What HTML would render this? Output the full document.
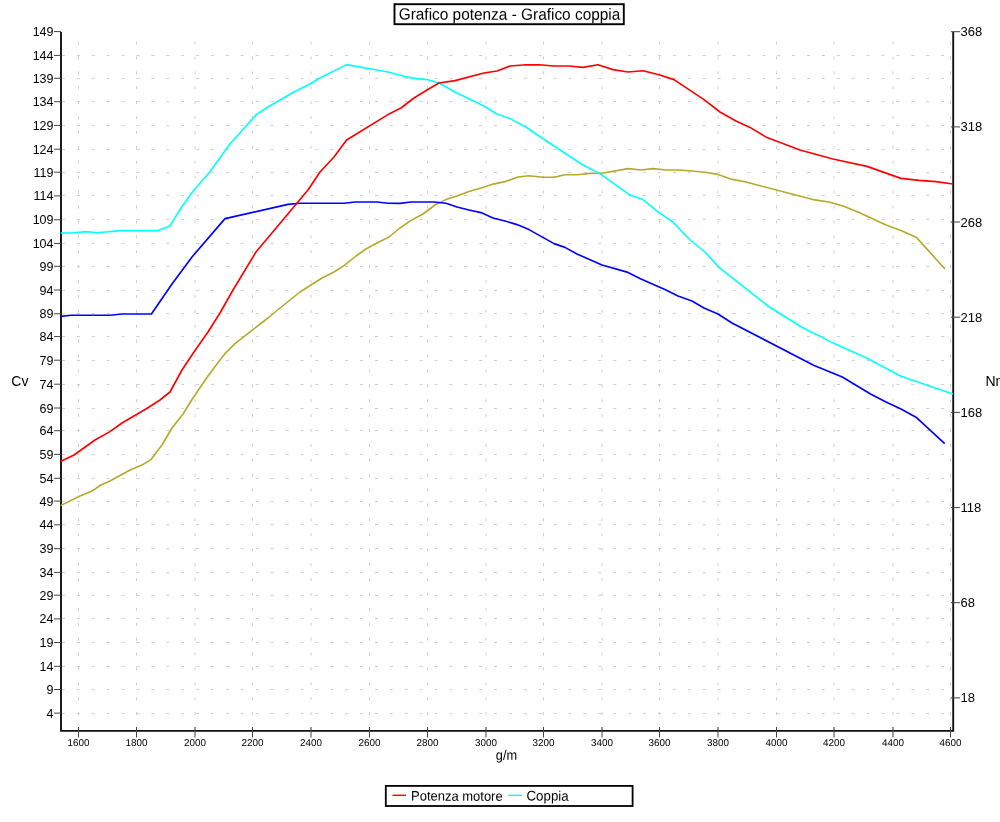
<!DOCTYPE html>
<html><head><meta charset="utf-8"><title>Grafico potenza - Grafico coppia</title>
<style>html,body{margin:0;padding:0;background:#fff}svg{display:block}text{font-family:"Liberation Sans",sans-serif;fill:#000}</style></head><body>
<svg width="1000" height="822" viewBox="0 0 1000 822">
<rect width="1000" height="822" fill="#fff"/>
<g stroke="#cecece" stroke-width="1" stroke-dasharray="3 11.9" fill="none">
<line x1="62" y1="713.5" x2="953" y2="713.5"/>
<line x1="62" y1="689.5" x2="953" y2="689.5"/>
<line x1="62" y1="666.5" x2="953" y2="666.5"/>
<line x1="62" y1="642.5" x2="953" y2="642.5"/>
<line x1="62" y1="618.5" x2="953" y2="618.5"/>
<line x1="62" y1="595.5" x2="953" y2="595.5"/>
<line x1="62" y1="572.5" x2="953" y2="572.5"/>
<line x1="62" y1="548.5" x2="953" y2="548.5"/>
<line x1="62" y1="524.5" x2="953" y2="524.5"/>
<line x1="62" y1="501.5" x2="953" y2="501.5"/>
<line x1="62" y1="478.5" x2="953" y2="478.5"/>
<line x1="62" y1="454.5" x2="953" y2="454.5"/>
<line x1="62" y1="430.5" x2="953" y2="430.5"/>
<line x1="62" y1="408.5" x2="953" y2="408.5"/>
<line x1="62" y1="384.5" x2="953" y2="384.5"/>
<line x1="62" y1="360.5" x2="953" y2="360.5"/>
<line x1="62" y1="336.5" x2="953" y2="336.5"/>
<line x1="62" y1="313.5" x2="953" y2="313.5"/>
<line x1="62" y1="290.5" x2="953" y2="290.5"/>
<line x1="62" y1="266.5" x2="953" y2="266.5"/>
<line x1="62" y1="243.5" x2="953" y2="243.5"/>
<line x1="62" y1="219.5" x2="953" y2="219.5"/>
<line x1="62" y1="195.5" x2="953" y2="195.5"/>
<line x1="62" y1="172.5" x2="953" y2="172.5"/>
<line x1="62" y1="149.5" x2="953" y2="149.5"/>
<line x1="62" y1="125.5" x2="953" y2="125.5"/>
<line x1="62" y1="101.5" x2="953" y2="101.5"/>
<line x1="62" y1="78.5" x2="953" y2="78.5"/>
<line x1="62" y1="55.5" x2="953" y2="55.5"/>
<line x1="78.5" y1="730.0" x2="78.5" y2="40"/>
<line x1="136.5" y1="730.0" x2="136.5" y2="40"/>
<line x1="195" y1="730.0" x2="195" y2="40"/>
<line x1="252.5" y1="730.0" x2="252.5" y2="40"/>
<line x1="311" y1="730.0" x2="311" y2="40"/>
<line x1="369.5" y1="730.0" x2="369.5" y2="40"/>
<line x1="427.5" y1="730.0" x2="427.5" y2="40"/>
<line x1="486" y1="730.0" x2="486" y2="40"/>
<line x1="543.5" y1="730.0" x2="543.5" y2="40"/>
<line x1="602" y1="730.0" x2="602" y2="40"/>
<line x1="659.5" y1="730.0" x2="659.5" y2="40"/>
<line x1="718" y1="730.0" x2="718" y2="40"/>
<line x1="776.5" y1="730.0" x2="776.5" y2="40"/>
<line x1="834" y1="730.0" x2="834" y2="40"/>
<line x1="893" y1="730.0" x2="893" y2="40"/>
<line x1="950.5" y1="730.0" x2="950.5" y2="40"/>
</g>
<g stroke="#111" stroke-width="1.9" fill="none" stroke-linejoin="miter">
<path d="M61,32 V730.9 H953.2 V32"/>
</g>
<g stroke="#444" stroke-width="1" fill="none">
<line x1="54" y1="713.1" x2="61" y2="713.1"/>
<line x1="54" y1="689.5" x2="61" y2="689.5"/>
<line x1="54" y1="666.3" x2="61" y2="666.3"/>
<line x1="54" y1="642.5" x2="61" y2="642.5"/>
<line x1="54" y1="618.9" x2="61" y2="618.9"/>
<line x1="54" y1="595.2" x2="61" y2="595.2"/>
<line x1="54" y1="572.4" x2="61" y2="572.4"/>
<line x1="54" y1="548.7" x2="61" y2="548.7"/>
<line x1="54" y1="524.8" x2="61" y2="524.8"/>
<line x1="54" y1="501.1" x2="61" y2="501.1"/>
<line x1="54" y1="478.3" x2="61" y2="478.3"/>
<line x1="54" y1="454.4" x2="61" y2="454.4"/>
<line x1="54" y1="430.7" x2="61" y2="430.7"/>
<line x1="54" y1="408.0" x2="61" y2="408.0"/>
<line x1="54" y1="384.2" x2="61" y2="384.2"/>
<line x1="54" y1="360.2" x2="61" y2="360.2"/>
<line x1="54" y1="336.6" x2="61" y2="336.6"/>
<line x1="54" y1="313.8" x2="61" y2="313.8"/>
<line x1="54" y1="290.0" x2="61" y2="290.0"/>
<line x1="54" y1="266.3" x2="61" y2="266.3"/>
<line x1="54" y1="243.4" x2="61" y2="243.4"/>
<line x1="54" y1="219.8" x2="61" y2="219.8"/>
<line x1="54" y1="195.9" x2="61" y2="195.9"/>
<line x1="54" y1="172.2" x2="61" y2="172.2"/>
<line x1="54" y1="149.2" x2="61" y2="149.2"/>
<line x1="54" y1="125.4" x2="61" y2="125.4"/>
<line x1="54" y1="101.7" x2="61" y2="101.7"/>
<line x1="54" y1="78.3" x2="61" y2="78.3"/>
<line x1="54" y1="55.4" x2="61" y2="55.4"/>
<line x1="54" y1="31.6" x2="61" y2="31.6"/>
<line x1="78.5" y1="727.0" x2="78.5" y2="737.5"/>
<line x1="136.5" y1="727.0" x2="136.5" y2="737.5"/>
<line x1="195" y1="727.0" x2="195" y2="737.5"/>
<line x1="252.5" y1="727.0" x2="252.5" y2="737.5"/>
<line x1="311" y1="727.0" x2="311" y2="737.5"/>
<line x1="369.5" y1="727.0" x2="369.5" y2="737.5"/>
<line x1="427.5" y1="727.0" x2="427.5" y2="737.5"/>
<line x1="486" y1="727.0" x2="486" y2="737.5"/>
<line x1="543.5" y1="727.0" x2="543.5" y2="737.5"/>
<line x1="602" y1="727.0" x2="602" y2="737.5"/>
<line x1="659.5" y1="727.0" x2="659.5" y2="737.5"/>
<line x1="718" y1="727.0" x2="718" y2="737.5"/>
<line x1="776.5" y1="727.0" x2="776.5" y2="737.5"/>
<line x1="834" y1="727.0" x2="834" y2="737.5"/>
<line x1="893" y1="727.0" x2="893" y2="737.5"/>
<line x1="950.5" y1="727.0" x2="950.5" y2="737.5"/>
<line x1="951" y1="697.9" x2="960" y2="697.9"/>
<line x1="951" y1="602.7" x2="960" y2="602.7"/>
<line x1="951" y1="507.6" x2="960" y2="507.6"/>
<line x1="951" y1="412.4" x2="960" y2="412.4"/>
<line x1="951" y1="317.2" x2="960" y2="317.2"/>
<line x1="951" y1="222.0" x2="960" y2="222.0"/>
<line x1="951" y1="126.9" x2="960" y2="126.9"/>
<line x1="951" y1="31.7" x2="960" y2="31.7"/>
</g>
<polyline fill="none" stroke="#b3aa28" stroke-width="1.6" stroke-linejoin="round" points="60.5,505.6 80.0,496.0 91.0,491.6 101.0,485.0 110.0,481.0 130.0,470.0 142.0,465.0 151.0,459.6 162.0,445.0 172.0,428.0 183.0,414.0 193.0,398.0 208.0,376.0 225.0,353.6 235.0,343.6 268.0,318.0 280.0,308.0 300.0,292.0 322.0,278.0 334.0,272.0 344.0,265.6 356.0,256.0 366.0,249.0 377.0,243.0 389.0,237.0 400.0,228.0 411.0,220.4 423.0,214.0 435.0,205.0 446.0,199.6 457.0,196.0 469.0,191.4 481.0,188.0 492.0,184.4 505.0,181.6 518.0,177.0 529.0,175.8 543.0,177.2 554.0,177.2 565.0,174.8 577.0,174.8 590.0,173.4 602.0,173.2 628.0,168.6 641.0,170.0 653.0,168.6 666.0,170.0 678.0,170.0 692.0,171.0 705.0,172.2 718.0,174.4 732.0,179.4 745.0,181.8 813.0,199.6 829.0,202.0 843.0,206.0 858.0,212.0 886.0,225.0 901.0,230.6 916.6,237.6 945.0,269.0"/>
<polyline fill="none" stroke="#0000ff" stroke-width="1.65" stroke-linejoin="round" points="60.5,316.4 71.0,315.2 110.0,315.2 122.0,314.0 151.4,314.0 172.0,284.0 192.0,257.0 225.0,218.6 288.0,204.4 300.0,203.2 344.0,203.2 355.0,202.0 377.0,202.0 388.0,203.2 400.0,203.4 411.0,202.0 434.0,202.0 446.0,203.2 457.0,207.0 469.0,210.0 481.0,212.6 493.0,218.0 505.0,221.0 517.0,224.6 529.0,229.6 554.0,243.6 565.0,247.4 577.0,254.0 602.0,265.0 628.0,272.4 641.0,279.0 666.0,290.0 678.0,296.0 692.0,301.0 704.0,308.0 718.0,314.0 732.0,323.0 813.6,365.2 842.3,377.0 871.0,394.2 886.0,402.0 901.0,409.0 916.0,417.2 944.7,443.6"/>
<polyline fill="none" stroke="#00ffff" stroke-width="1.6" stroke-linejoin="round" points="60.5,233.0 72.0,233.0 86.0,231.6 97.0,232.8 121.0,230.6 158.0,230.6 170.0,226.0 181.0,208.0 194.0,190.0 209.0,173.0 230.0,144.0 256.4,114.6 268.0,107.0 294.0,92.0 310.0,84.0 320.0,78.0 346.6,64.6 388.0,72.0 405.0,76.6 415.0,78.4 427.0,79.6 439.0,83.0 455.0,92.0 484.0,106.0 497.0,114.0 510.0,118.6 526.0,127.0 539.0,136.0 583.0,165.0 600.0,173.6 629.0,194.4 643.0,199.6 659.0,212.6 673.0,222.0 689.0,239.0 705.0,252.0 719.0,267.4 768.0,306.0 801.0,326.8 834.3,343.6 867.6,358.5 901.0,376.2 953.0,394.0"/>
<polyline fill="none" stroke="#ff0000" stroke-width="1.65" stroke-linejoin="round" points="60.5,461.6 74.0,455.0 95.0,440.0 110.0,431.6 122.0,423.0 146.0,409.0 160.0,400.0 170.0,392.0 182.0,370.0 194.0,352.0 208.0,332.0 220.0,313.0 233.0,290.0 256.0,252.0 308.0,190.0 320.0,172.0 334.0,157.0 346.6,140.0 388.0,114.6 401.0,108.0 414.0,98.0 427.0,90.0 439.0,83.0 455.0,80.6 484.0,73.0 497.0,71.0 510.0,66.0 526.0,64.8 539.0,64.8 554.0,66.0 569.0,66.0 583.0,67.4 598.0,64.8 613.0,69.6 628.0,72.0 643.0,70.8 659.0,74.8 674.0,79.6 704.0,99.6 720.0,112.0 736.0,121.0 750.0,127.4 767.0,137.6 800.0,150.0 833.0,159.0 867.0,166.4 901.0,178.4 919.0,180.4 936.0,181.6 953.0,184.0"/>
<g font-size="12.5" text-anchor="end">
<text x="53.5" y="717.6">4</text>
<text x="53.5" y="694.0">9</text>
<text x="53.5" y="670.8">14</text>
<text x="53.5" y="647.0">19</text>
<text x="53.5" y="623.4">24</text>
<text x="53.5" y="599.7">29</text>
<text x="53.5" y="576.9">34</text>
<text x="53.5" y="553.2">39</text>
<text x="53.5" y="529.3">44</text>
<text x="53.5" y="505.6">49</text>
<text x="53.5" y="482.8">54</text>
<text x="53.5" y="458.9">59</text>
<text x="53.5" y="435.2">64</text>
<text x="53.5" y="412.5">69</text>
<text x="53.5" y="388.7">74</text>
<text x="53.5" y="364.7">79</text>
<text x="53.5" y="341.1">84</text>
<text x="53.5" y="318.3">89</text>
<text x="53.5" y="294.5">94</text>
<text x="53.5" y="270.8">99</text>
<text x="53.5" y="247.9">104</text>
<text x="53.5" y="224.3">109</text>
<text x="53.5" y="200.4">114</text>
<text x="53.5" y="176.7">119</text>
<text x="53.5" y="153.7">124</text>
<text x="53.5" y="129.9">129</text>
<text x="53.5" y="106.2">134</text>
<text x="53.5" y="82.8">139</text>
<text x="53.5" y="59.9">144</text>
<text x="53.5" y="36.1">149</text>
</g>
<g font-size="13" text-anchor="start">
<text x="960.5" y="702.4">18</text>
<text x="960.5" y="607.2">68</text>
<text x="960.5" y="512.1">118</text>
<text x="960.5" y="416.9">168</text>
<text x="960.5" y="321.7">218</text>
<text x="960.5" y="226.5">268</text>
<text x="960.5" y="131.4">318</text>
<text x="960.5" y="36.2">368</text>
</g>
<g font-size="9.9" text-anchor="middle">
<text transform="translate(78.5 746) rotate(0.05)">1600</text>
<text transform="translate(136.5 746) rotate(0.05)">1800</text>
<text transform="translate(195.0 746) rotate(0.05)">2000</text>
<text transform="translate(252.5 746) rotate(0.05)">2200</text>
<text transform="translate(311.0 746) rotate(0.05)">2400</text>
<text transform="translate(369.5 746) rotate(0.05)">2600</text>
<text transform="translate(427.5 746) rotate(0.05)">2800</text>
<text transform="translate(486.0 746) rotate(0.05)">3000</text>
<text transform="translate(543.5 746) rotate(0.05)">3200</text>
<text transform="translate(602.0 746) rotate(0.05)">3400</text>
<text transform="translate(659.5 746) rotate(0.05)">3600</text>
<text transform="translate(718.0 746) rotate(0.05)">3800</text>
<text transform="translate(776.5 746) rotate(0.05)">4000</text>
<text transform="translate(834.0 746) rotate(0.05)">4200</text>
<text transform="translate(893.0 746) rotate(0.05)">4400</text>
<text transform="translate(950.5 746) rotate(0.05)">4600</text>
</g>
<text x="11.3" y="386.2" font-size="14">Cv</text>
<text x="985.5" y="386.2" font-size="14">Nm</text>
<text transform="translate(506.5 759.7) rotate(0.05) scale(1 1.08)" font-size="12.8" text-anchor="middle">g/m</text>
<rect x="394.5" y="4.2" width="229.3" height="20" fill="#fff" stroke="#000" stroke-width="1.9"/>
<text transform="translate(509.5 19.7) rotate(0.05) scale(1 1.06)" font-size="15.4" text-anchor="middle">Grafico potenza - Grafico coppia</text>
<rect x="385.8" y="785.9" width="246.8" height="20.1" fill="#fff" stroke="#000" stroke-width="1.8"/>
<line x1="392.5" y1="795.3" x2="406" y2="795.3" stroke="#ff0000" stroke-width="1.4"/>
<text transform="translate(411 800.6) rotate(0.05) scale(1 1.05)" font-size="13">Potenza motore</text>
<line x1="508.5" y1="795.3" x2="522" y2="795.3" stroke="#00ffff" stroke-width="1.4"/>
<text transform="translate(526.5 800.6) rotate(0.05) scale(1 1.05)" font-size="13.3">Coppia</text>
</svg></body></html>
